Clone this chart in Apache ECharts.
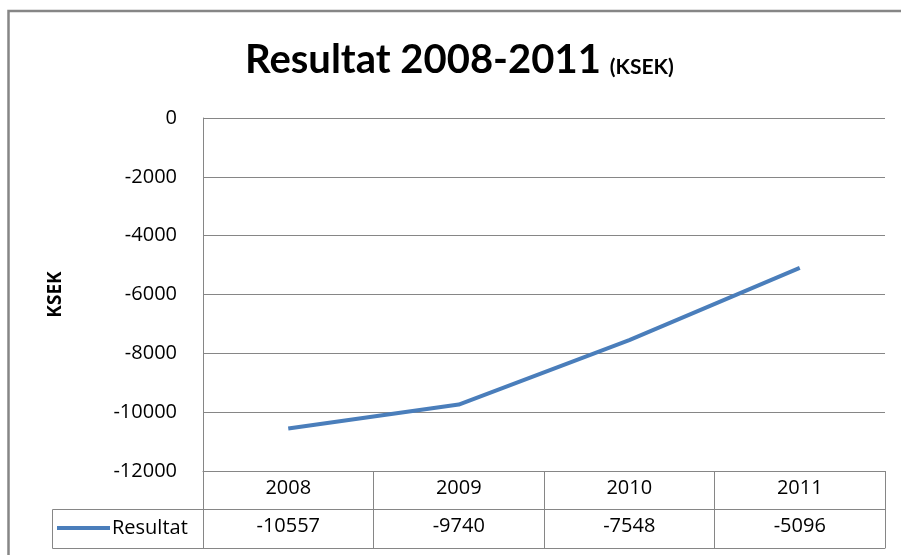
<!DOCTYPE html>
<html>
<head>
<meta charset="UTF-8">
<title>Resultat 2008-2011</title>
<script src="https://cdn.jsdelivr.net/npm/echarts@6/dist/echarts.min.js" type="text/javascript"></script>
<style>
  html, body { margin: 0; padding: 0; background: #fff; overflow: hidden; }
  #chart { width: 901px; height: 555px; }
</style>
</head>
<body>
<div id="chart"></div>
<script>
// data
var years = ['2008', '2009', '2010', '2011'];
var resultat = [-10557, -9740, -7548, -5096];
var yTicks = { min: -12000, max: 0, step: 2000 };

var grey = '#868686';
var font = '"Open Sans", "DejaVu Sans", sans-serif';

var myChart = echarts.init(document.getElementById('chart'), null, { renderer: 'canvas' });

var option = {
    backgroundColor: '#ffffff',
    animation: false,
    title: {
        left: 240,
        top: 35,
        text: '{a|Resultat 2008-2011}{b|(KSEK)}',
        textStyle: {
            rich: {
                a: { fontFamily: 'Lato, sans-serif', fontWeight: 'bold', fontSize: 40, color: '#000', verticalAlign: 'bottom' },
                b: { fontFamily: 'Lato, sans-serif', fontWeight: 'bold', fontSize: 21, color: '#000', verticalAlign: 'bottom', padding: [0, 0, 2, 9] }
            }
        }
    },
    legend: {
        left: 57,
        top: 518,
        padding: 0,
        icon: 'rect',
        itemWidth: 53,
        itemHeight: 4,
        itemGap: 0,
        textStyle: { fontFamily: font, fontSize: 20, color: '#000', padding: [0, 0, 0, -3] },
        data: ['Resultat']
    },
    grid: { left: 203, right: 16, top: 118, bottom: 84, containLabel: false },
    xAxis: [
        {
            type: 'category',
            data: years,
            position: 'bottom',
            boundaryGap: true,
            axisLine: { show: true, onZero: false, lineStyle: { color: grey, width: 1 } },
            axisTick: { show: true, interval: 0, length: 77, lineStyle: { color: grey, width: 1 } },
            axisLabel: { margin: 7, fontFamily: font, fontSize: 20, color: '#000' }
        },
        {
            type: 'category',
            data: resultat.map(String),
            position: 'bottom',
            offset: 38,
            boundaryGap: true,
            axisLine: { show: true, onZero: false, lineStyle: { color: grey, width: 1 } },
            axisTick: { show: false },
            axisLabel: { margin: 7, fontFamily: font, fontSize: 20, color: '#000' }
        },
        {
            type: 'category',
            data: years,
            position: 'bottom',
            offset: 77,
            axisLine: { show: true, onZero: false, lineStyle: { color: grey, width: 1 } },
            axisTick: { show: false },
            axisLabel: { show: false }
        }
    ],
    yAxis: {
        type: 'value',
        min: yTicks.min,
        max: yTicks.max,
        interval: yTicks.step,
        name: 'KSEK',
        nameLocation: 'middle',
        nameGap: 138,
        nameTextStyle: { fontFamily: font, fontWeight: 'bold', fontSize: 19, color: '#000' },
        axisLine: { show: true, lineStyle: { color: grey, width: 1 } },
        axisTick: { show: false },
        axisLabel: {
            margin: 26, fontFamily: font, fontSize: 20, color: '#000',
            formatter: function (v) { return String(v); }
        },
        splitLine: { show: true, lineStyle: { color: grey, width: 1 } }
    },
    series: [
        {
            name: 'Resultat',
            type: 'line',
            xAxisIndex: 0,
            data: resultat,
            symbol: 'none',
            lineStyle: { color: '#4a7ebb', width: 4 },
            itemStyle: { color: '#4a7ebb' }
        }
    ],
    graphic: [
        // chart frame (only left and top edges fall inside the picture)
        { type: 'polyline', shape: { points: [[8.5, 560], [8.5, 11], [905, 11]] }, style: { fill: 'none', stroke: grey, lineWidth: 2.5 }, silent: true },
        // legend cell of the data table
        { type: 'polyline', shape: { points: [[203, 509.5], [52.5, 509.5], [52.5, 548.5], [203, 548.5]] }, style: { fill: 'none', stroke: grey, lineWidth: 1 }, silent: true }
    ]
};

myChart.setOption(option);
</script>
</body>
</html>
